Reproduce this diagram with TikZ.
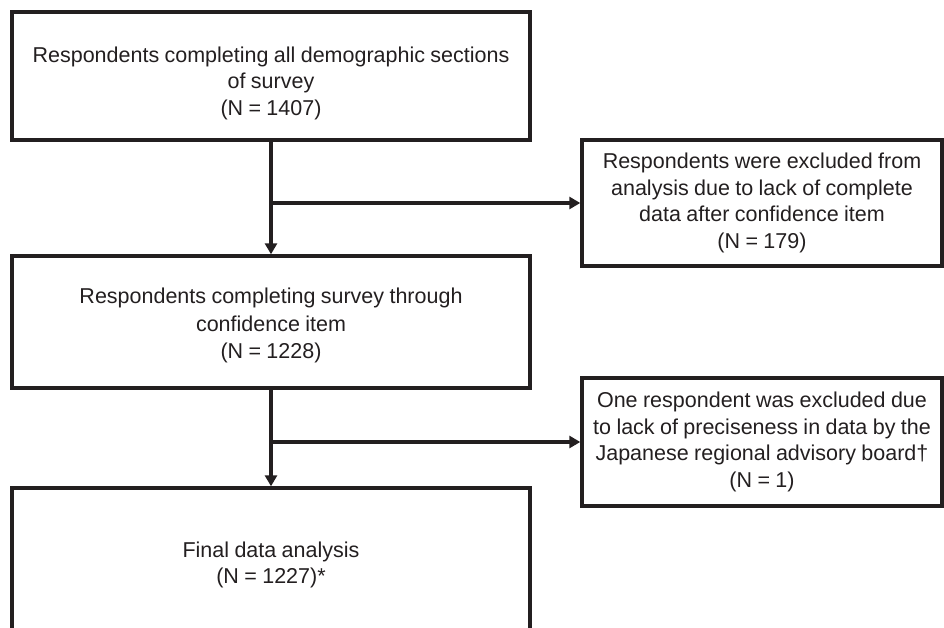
\documentclass[tikz,border=0pt]{standalone}
\usepackage{fontspec}
\setmainfont{Liberation Sans}[WordSpace=0.9]
\usetikzlibrary{arrows.meta}
\definecolor{ink}{HTML}{231F20}
\begin{document}
\begin{tikzpicture}[x=1pt,y=-1pt,
  box/.style={draw=ink, line width=3.4pt, align=center, inner sep=0pt,
    font=\fontsize{21.5}{26.5}\selectfont, text=ink},
  conn/.style={draw=ink, line width=3.4pt, -{Triangle[length=11pt,width=12pt]}}]
\useasboundingbox (0,0) rectangle (944,628);
\clip (0,0) rectangle (944,628);
\node[box, minimum width=518pt, minimum height=128pt] (b1) at (271,76)
  {\rule{0pt}{30pt}Respondents completing all demographic sections\\of survey\\(N = 1407)};
\node[box, minimum width=360pt, minimum height=126pt] (ra) at (762,203)
  {Respondents were excluded from\\analysis due to lack of complete\\data after confidence item\\(N = 179)};
\node[box, minimum width=518pt, minimum height=132pt] (b2) at (271,322)
  {\rule{0pt}{23pt}Respondents completing survey through\\[1pt]confidence item\\[1pt](N = 1228)};
\node[box, minimum width=360pt, minimum height=128pt] (rb) at (762,442)
  {One respondent was excluded due\\to lack of preciseness in data by the\\Japanese regional advisory board\textdagger\\(N = 1)};
\node[box, minimum width=518pt, minimum height=154pt] (b3) at (271,565)
  {Final data analysis\\(N = 1227)*};
\coordinate (j1) at (b1.south |- ra.west);
\coordinate (j2) at (b2.south |- rb.west);
\draw[conn] (b1.south) -- (b2.north);
\draw[conn] (j1) -- (ra.west);
\draw[conn] (b2.south) -- (b3.north);
\draw[conn] (j2) -- (rb.west);
\end{tikzpicture}
\end{document}
